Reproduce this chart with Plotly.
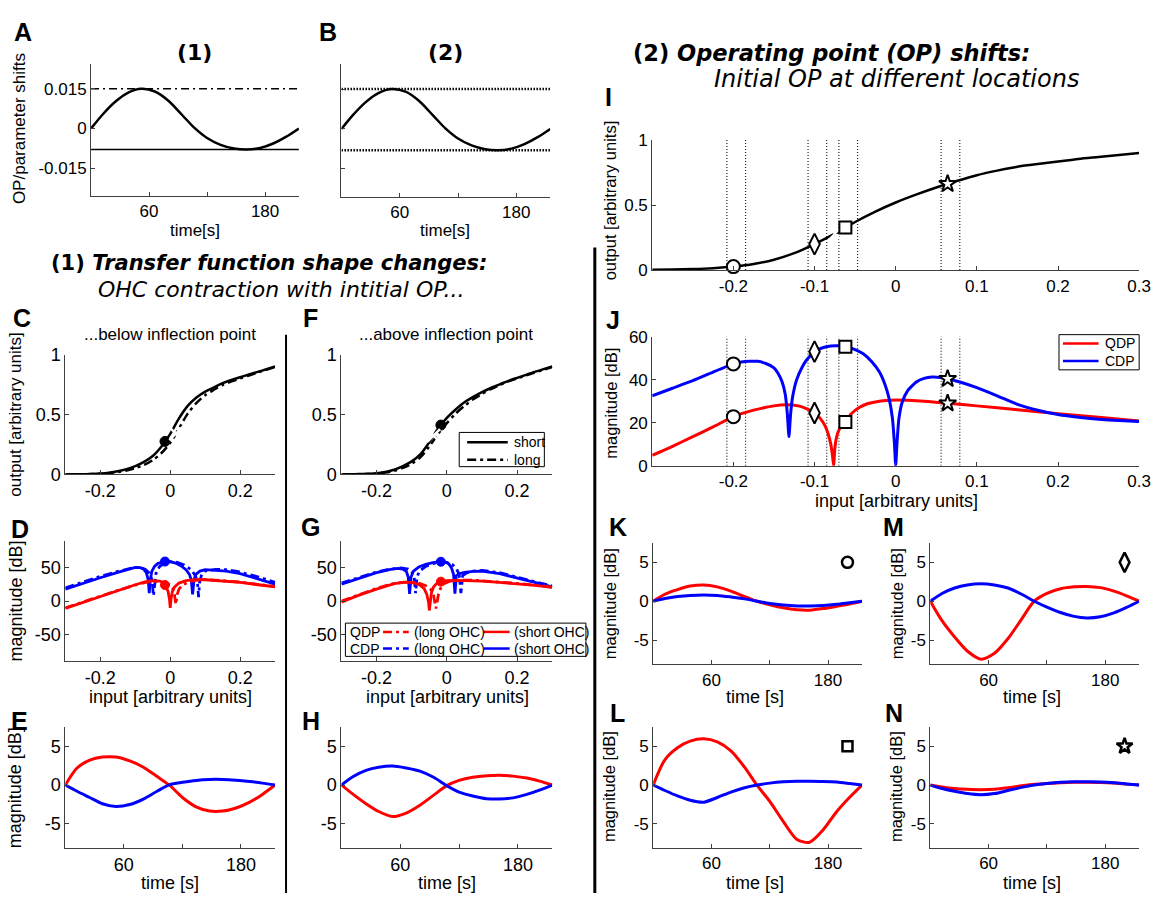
import numpy as np
import plotly.graph_objects as go

# ---------------- time courses (s) ----------------
T_SEC = [0, 12, 25, 38, 52, 66, 80, 94, 107, 120, 134, 148, 161, 175, 189, 202, 215]
OP_SHIFT = [0, 0.0053, 0.0101, 0.0135, 0.0150, 0.0140, 0.0105, 0.0052, 0.0002,
            -0.0036, -0.0062, -0.0076, -0.0080, -0.0074, -0.0056, -0.0031, 0]

E_QDP = [0, 2.2, 3.2, 3.6, 3.6, 3.1, 2.3, 1.1, -0.05, -1.6, -2.8, -3.35, -3.35, -2.95, -2.2, -1.2, 0]
E_CDP = [0, -0.8, -1.6, -2.4, -2.75, -2.5, -1.8, -0.8, 0.05, 0.35, 0.6, 0.72, 0.72, 0.62, 0.45, 0.25, 0]
H_QDP = [0, -1.2, -2.4, -3.4, -4.05, -3.6, -2.6, -1.3, -0.1, 0.6, 1.0, 1.2, 1.27, 1.15, 0.9, 0.5, 0]
H_CDP = [0, 1.1, 1.9, 2.3, 2.45, 2.2, 1.8, 1.0, -0.05, -0.9, -1.4, -1.75, -1.8, -1.65, -1.2, -0.65, 0]
K_QDP = [0, 0.9, 1.5, 1.95, 2.1, 1.85, 1.3, 0.6, 0, -0.45, -0.85, -1.1, -1.15, -0.95, -0.65, -0.35, 0]
K_CDP = [0, 0.35, 0.6, 0.75, 0.8, 0.75, 0.55, 0.3, 0, -0.3, -0.5, -0.6, -0.6, -0.55, -0.4, -0.2, 0]
M_QDP = [0, -2.5, -4.6, -6.4, -7.45, -6.7, -4.8, -2.3, 0, 1.0, 1.6, 1.85, 1.9, 1.75, 1.3, 0.7, 0]
M_CDP = [0, 1.0, 1.7, 2.1, 2.25, 2.1, 1.7, 0.9, 0, -0.75, -1.45, -1.95, -2.15, -2.0, -1.5, -0.8, 0]
L_QDP = [0, 3.25, 4.8, 5.65, 5.95, 5.55, 4.4, 2.3, -0.05, -2.1, -4.7, -7.0, -7.35, -5.75, -3.4, -1.6, 0]
L_CDP = [0, -0.7, -1.4, -1.95, -2.2, -1.6, -0.9, -0.35, 0, 0.25, 0.42, 0.5, 0.5, 0.47, 0.38, 0.2, 0]
N_QDP = [0, -0.25, -0.45, -0.55, -0.6, -0.55, -0.35, -0.1, 0.1, 0.2, 0.3, 0.35, 0.35, 0.33, 0.25, 0.12, 0]
N_CDP = [0, -0.45, -0.8, -1.1, -1.25, -1.1, -0.7, -0.3, 0, 0.2, 0.35, 0.42, 0.42, 0.4, 0.3, 0.15, 0]

# ---------------- transfer functions ----------------
X_TF = [-0.3, -0.275, -0.25, -0.225, -0.2, -0.175, -0.15, -0.125, -0.1, -0.075, -0.05, -0.025,
        0, 0.025, 0.05, 0.075, 0.1, 0.125, 0.15, 0.175, 0.2, 0.225, 0.25, 0.275, 0.3]
C_SHORT = [0.0, 0.001, 0.002, 0.004, 0.008, 0.015, 0.027, 0.045, 0.07, 0.105, 0.155, 0.235,
           0.34, 0.47, 0.575, 0.645, 0.695, 0.73, 0.765, 0.792, 0.815, 0.838, 0.86, 0.882, 0.905]
C_LONG = [0.0, 0.0005, 0.001, 0.003, 0.006, 0.011, 0.02, 0.034, 0.053, 0.08, 0.12, 0.18,
          0.265, 0.385, 0.51, 0.60, 0.665, 0.71, 0.75, 0.78, 0.805, 0.83, 0.855, 0.878, 0.90]
F_SHORT = [0.0, 0.001, 0.003, 0.006, 0.01, 0.022, 0.04, 0.07, 0.11, 0.17, 0.27, 0.385,
           0.475, 0.545, 0.605, 0.65, 0.69, 0.725, 0.755, 0.785, 0.81, 0.835, 0.86, 0.883, 0.905]
F_LONG = [0.0, 0.001, 0.002, 0.004, 0.007, 0.016, 0.03, 0.055, 0.09, 0.145, 0.235, 0.34,
          0.43, 0.51, 0.575, 0.63, 0.675, 0.715, 0.75, 0.78, 0.805, 0.83, 0.855, 0.878, 0.90]
I_OUT = [0.002, 0.004, 0.008, 0.015, 0.027, 0.047, 0.08, 0.13, 0.20, 0.28, 0.37, 0.45,
         0.52, 0.58, 0.635, 0.685, 0.73, 0.765, 0.795, 0.815, 0.835, 0.855, 0.87, 0.885, 0.90]

C_OP, C_INFL = -0.015, 0.016
F_OP, F_INFL = -0.017, -0.038
I_INFL = -0.075
OP_X = [-0.2, -0.1, -0.062, 0.064]
OP_SYMBOL = ["circle", "diamond-tall", "square", "star"]
OP_SIZE = [13, 15, 12, 13]

# ---------------- DP magnitudes (dB) vs input ----------------
D_CDP_S_X = [-0.3, -0.25, -0.2, -0.15, -0.12, -0.1, -0.085, -0.075, -0.068, -0.063, -0.06, -0.057,
             -0.053, -0.045, -0.035, -0.02, -0.01, 0, 0.015, 0.03, 0.045, 0.055, 0.06, 0.064, 0.068,
             0.073, 0.085, 0.1, 0.13, 0.16, 0.2, 0.25, 0.3]
D_CDP_S = [18, 27, 35, 43, 48, 50.5, 50, 47.5, 42, 32, 12, 32, 44, 52, 56.5, 59, 59.5, 59, 57, 53,
           47, 40, 32, 10, 32, 40, 45, 47, 46.5, 45, 41, 33.5, 25.5]
D_CDP_L_X = [-0.3, -0.25, -0.2, -0.15, -0.12, -0.1, -0.08, -0.07, -0.06, -0.052, -0.048, -0.044,
             -0.04, -0.03, -0.015, 0, 0.02, 0.04, 0.06, 0.072, 0.078, 0.081, 0.084, 0.09, 0.1,
             0.13, 0.16, 0.2, 0.25, 0.3]
D_CDP_L = [20, 29, 37, 44.5, 48.5, 50.5, 49.5, 47, 42, 32, 8, 32, 44, 52, 57, 59, 58, 54, 47, 38,
           28, 6, 28, 40, 45, 47.5, 47, 43.5, 36.5, 28]
D_QDP_S_X = [-0.3, -0.25, -0.2, -0.15, -0.1, -0.07, -0.05, -0.03, -0.02, -0.012, -0.006, -0.002,
             0, 0.002, 0.006, 0.012, 0.025, 0.045, 0.07, 0.1, 0.15, 0.2, 0.25, 0.3]
D_QDP_S = [-11, -2, 6, 15.5, 24.5, 29, 30.5, 30, 27.5, 22, 14, 2, -10, 2, 14, 21, 27, 30.5, 32, 32,
           30.5, 28, 24.5, 21.5]
D_QDP_L_X = [-0.3, -0.25, -0.2, -0.15, -0.1, -0.07, -0.05, -0.03, -0.01, 0, 0.008, 0.012, 0.016,
             0.02, 0.025, 0.035, 0.05, 0.07, 0.1, 0.15, 0.2, 0.25, 0.3]
D_QDP_L = [-10, -1, 7, 16, 24, 28, 29.5, 29.5, 27, 24, 18, 10, -5, 10, 18, 24, 28, 31, 32.5, 31,
           28.5, 25, 22]

G_CDP_S_X = [-0.3, -0.25, -0.2, -0.16, -0.14, -0.125, -0.115, -0.11, -0.106, -0.102, -0.095, -0.08,
             -0.06, -0.04, -0.02, -0.005, 0.005, 0.013, 0.019, 0.023, 0.027, 0.035, 0.05, 0.075,
             0.1, 0.15, 0.2, 0.25, 0.3]
G_CDP_S = [25.5, 34, 42.5, 47.5, 49, 48, 44, 36, 11, 36, 45, 51, 55, 57.5, 59, 58.5, 56, 50, 40, 11,
           38, 41, 43, 44.5, 45, 41, 35, 28, 21.5]
G_CDP_L_X = [-0.3, -0.25, -0.2, -0.16, -0.13, -0.11, -0.1, -0.093, -0.089, -0.085, -0.078, -0.06,
             -0.04, -0.02, 0, 0.015, 0.027, 0.035, 0.04, 0.045, 0.055, 0.075, 0.1, 0.15, 0.2,
             0.25, 0.3]
G_CDP_L = [27, 35, 43.5, 48, 49.5, 48, 44, 36, 12, 36, 45, 52, 56, 58.5, 58, 55, 49, 40, 12, 38,
           42, 45, 46, 42.5, 36, 29, 22.5]
G_QDP_S_X = [-0.3, -0.25, -0.2, -0.15, -0.12, -0.1, -0.08, -0.065, -0.057, -0.052, -0.05, -0.048,
             -0.044, -0.038, -0.028, -0.015, 0, 0.03, 0.06, 0.1, 0.15, 0.2, 0.25, 0.3]
G_QDP_S = [-1.5, 9, 18, 26, 28, 28, 25, 19, 10, -2, -14, -2, 12, 21, 27, 29.5, 30.5, 31, 31, 30,
           28, 26, 23.5, 20.5]
G_QDP_L_X = [-0.3, -0.25, -0.2, -0.15, -0.12, -0.1, -0.08, -0.06, -0.045, -0.038, -0.034, -0.031,
             -0.028, -0.024, -0.018, -0.008, 0.01, 0.04, 0.07, 0.1, 0.15, 0.2, 0.25, 0.3]
G_QDP_L = [0, 10, 19, 26.5, 28.5, 28.5, 27, 23, 17, 9, -2, -11, -2, 10, 19, 26, 30, 31.5, 31.5,
           30.5, 28.5, 26.5, 24, 21]

J_CDP_X = [-0.3, -0.275, -0.25, -0.225, -0.2, -0.19, -0.18, -0.17, -0.16, -0.15, -0.145, -0.14,
           -0.136, -0.1335, -0.1315, -0.1295, -0.127, -0.122, -0.115, -0.11, -0.1, -0.09, -0.08,
           -0.07, -0.06, -0.05, -0.04, -0.03, -0.02, -0.013, -0.008, -0.004, -0.0015, 0, 0.0015,
           0.004, 0.008, 0.015, 0.025, 0.035, 0.045, 0.055, 0.065, 0.08, 0.1, 0.125, 0.15, 0.175,
           0.2, 0.225, 0.25, 0.275, 0.3]
J_CDP = [32.5, 36, 39.5, 43.5, 47.3, 48.2, 48.5, 48.5, 47.5, 45.5, 43, 39, 33, 24, 13.5, 24, 32,
         40, 46, 49, 53, 54.8, 55.6, 55.7, 55.2, 54, 52, 48.5, 43.5, 37.5, 31, 22, 10, 0, 10, 22,
         29.5, 35, 38.8, 40.6, 41.2, 41, 40.3, 38.8, 36.3, 32.5, 28.5, 25.8, 23.8, 22.5, 21.6, 21,
         20.5]
J_QDP_X = [-0.3, -0.275, -0.25, -0.225, -0.2, -0.175, -0.15, -0.135, -0.12, -0.11, -0.1, -0.093,
           -0.087, -0.083, -0.08, -0.078, -0.0765, -0.075, -0.073, -0.07, -0.066, -0.062, -0.055,
           -0.045, -0.035, -0.02, 0, 0.02, 0.04, 0.064, 0.1, 0.15, 0.2, 0.25, 0.3]
J_QDP = [4.8, 9, 13.5, 18, 22.8, 25.8, 27.8, 28.3, 27.8, 26.5, 24.5, 22, 18.5, 14.5, 10, 5, 0, 8,
         13, 16.5, 18.8, 20.3, 24, 27, 28.8, 30, 30.5, 30.3, 29.8, 29, 27.8, 26, 24.2, 22.5, 20.8]

# ---------------- figure helpers ----------------
W, H = 1167, 903
FONT = "Liberation Sans, Arial, sans-serif"
HEAD = "DejaVu Sans, Verdana, sans-serif"
AXC = "#404040"
RED, BLUE = "#ff0000", "#0000ff"


def px(x):
    return x / W


def py(y):
    return 1 - y / H


fig = go.Figure()
_count = [0]


def new_axes(box, xr, yr, xt, xtt, yt, ytt, fs=18, ylabels=True):
    _count[0] += 1
    k = "" if _count[0] == 1 else str(_count[0])
    l, r, t, b = box
    common = dict(showline=True, linecolor=AXC, linewidth=1, ticks="inside", ticklen=4,
                  tickcolor=AXC, showgrid=False, zeroline=False, tickmode="array",
                  tickfont=dict(family=FONT, size=fs, color="black"), fixedrange=True)
    fig.update_layout(**{
        "xaxis" + k: dict(domain=[px(l), px(r)], range=xr, anchor="y" + k,
                          tickvals=xt, ticktext=xtt, **common),
        "yaxis" + k: dict(domain=[py(b), py(t)], range=yr, anchor="x" + k,
                          tickvals=yt, ticktext=ytt, showticklabels=ylabels, **common),
    })
    return ("x" + k, "y" + k)


def line(ax, x, y, color="black", width=2.5, dash=None, shape="spline", smoothing=0.8):
    fig.add_trace(go.Scatter(x=x, y=y, xaxis=ax[0], yaxis=ax[1], mode="lines",
                             line=dict(color=color, width=width, dash=dash, shape=shape,
                                       smoothing=smoothing),
                             showlegend=False, hoverinfo="skip"))


def marks(ax, x, y, symbol, size, fill="white", edge="black", lw=2):
    fig.add_trace(go.Scatter(x=x, y=y, xaxis=ax[0], yaxis=ax[1], mode="markers",
                             marker=dict(symbol=symbol, size=size, color=fill,
                                         line=dict(color=edge, width=lw)),
                             cliponaxis=False, showlegend=False, hoverinfo="skip"))


def text(x, y, s, size=18, family=FONT, angle=0, xanchor="center"):
    fig.add_annotation(x=px(x), y=py(y), xref="paper", yref="paper", text=s, showarrow=False,
                       font=dict(family=family, size=size, color="black"), textangle=angle,
                       xanchor=xanchor, yanchor="middle")


def seg(x0, y0, x1, y1, color="black", width=1, dash=None):
    fig.add_shape(type="line", xref="paper", yref="paper", x0=px(x0), y0=py(y0),
                  x1=px(x1), y1=py(y1), line=dict(color=color, width=width, dash=dash))


def box(x0, y0, x1, y1):
    fig.add_shape(type="rect", xref="paper", yref="paper", x0=px(x0), y0=py(y0),
                  x1=px(x1), y1=py(y1), line=dict(color="black", width=1), fillcolor="white")


TR = [0, 215]
TT, TTX = [60, 120, 180], ["60", "", "180"]
XIN, XINT = [-0.2, 0, 0.2], ["-0.2", "0", "0.2"]
XJ, XJT = [-0.2, -0.1, 0, 0.1, 0.2, 0.3], ["-0.2", "-0.1", "0", "0.1", "0.2", "0.3"]
YDB, YDBT = [-5, 0, 5], ["-5", "0", "5"]
DB_R = [-8.1, 7.5]
DASHDOT = "9px,4px,3px,4px"

shift_max, shift_min = max(OP_SHIFT), min(OP_SHIFT)

# ---------------- A / B : operating point shifts over time ----------------
axA = new_axes((92, 302, 55, 190), TR, [-0.0255, 0.0245], TT, TTX,
               [-0.015, 0, 0.015], ["-0.015", "0", "0.015"], fs=17)
line(axA, TR, [shift_max] * 2, width=1.5, dash="8px,4px,2px,4px", shape="linear")
line(axA, TR, [shift_min] * 2, width=1.5, shape="linear")
line(axA, T_SEC, OP_SHIFT, width=2.5)

axB = new_axes((345, 556, 55, 191), TR, [-0.0255, 0.0245], TT, TTX,
               [-0.015, 0, 0.015], ["-0.015", "0", "0.015"], fs=17, ylabels=False)
line(axB, TR, [shift_max] * 2, width=2.5, dash="1.5px,1.5px", shape="linear")
line(axB, TR, [shift_min] * 2, width=2.5, dash="1.5px,1.5px", shape="linear")
line(axB, T_SEC, OP_SHIFT, width=2.5)

# ---------------- C / F : transfer functions ----------------
for box_px, short, long_, op, infl, infl_curve in (
        ((66, 278, 353, 475), C_SHORT, C_LONG, C_OP, C_INFL, C_LONG),
        ((345, 558, 353, 475), F_SHORT, F_LONG, F_OP, F_INFL, F_SHORT)):
    ax = new_axes(box_px, [-0.3, 0.3], [0, 1], XIN, XINT, [0, 0.5, 1], ["0", "0.5", "1"])
    line(ax, X_TF, long_, dash=DASHDOT)
    line(ax, X_TF, short)
    marks(ax, [op], [float(np.interp(op, X_TF, short))], "circle", 10, fill="black", lw=1)
    marks(ax, [infl], [float(np.interp(infl, X_TF, infl_curve))], "x-thin-open", 13, lw=2.5)

# ---------------- D / G : DP magnitude vs input ----------------
for box_px, curves, op in (
        ((66, 278, 543, 666),
         ((D_CDP_L_X, D_CDP_L, BLUE, DASHDOT), (D_CDP_S_X, D_CDP_S, BLUE, None),
          (D_QDP_L_X, D_QDP_L, RED, DASHDOT), (D_QDP_S_X, D_QDP_S, RED, None)), C_OP),
        ((345, 558, 543, 666),
         ((G_CDP_L_X, G_CDP_L, BLUE, DASHDOT), (G_CDP_S_X, G_CDP_S, BLUE, None),
          (G_QDP_L_X, G_QDP_L, RED, DASHDOT), (G_QDP_S_X, G_QDP_S, RED, None)), F_OP)):
    ax = new_axes(box_px, [-0.3, 0.3], [-90, 90], XIN, XINT, [-50, 0, 50], ["-50", "0", "50"])
    for xs, ys, col, dsh in curves:
        line(ax, xs, ys, color=col, dash=dsh, shape="linear", width=2.8)
    for xs, ys, col, dsh in curves[1::2]:
        marks(ax, [op], [float(np.interp(op, xs, ys))], "circle", 9, fill=col, edge=col, lw=1)

# ---------------- E / H : DP magnitude over time ----------------
for box_px, q, c in (((66, 278, 733, 857), E_QDP, E_CDP), ((345, 558, 733, 857), H_QDP, H_CDP)):
    ax = new_axes(box_px, TR, DB_R, TT, TTX, YDB, YDBT)
    line(ax, T_SEC, q, color=RED, width=3)
    line(ax, T_SEC, c, color=BLUE, width=3)

# ---------------- I : transfer function with operating points ----------------
axI = new_axes((659, 1151, 133, 266), [-0.3, 0.3], [0, 1], XJ, XJT, [0, 0.5, 1],
               ["0", "0.5", "1"], fs=17)
op_lines = sorted([o + shift_min for o in OP_X] + [o + shift_max for o in OP_X])
vx, vyI, vyJ = [], [], []
for v in op_lines:
    vx += [v, v, None]
    vyI += [0, 1, None]
    vyJ += [0, 60, None]
fig.add_trace(go.Scatter(x=vx, y=vyI, xaxis=axI[0], yaxis=axI[1], mode="lines",
                         line=dict(color="#222", width=1.2, dash="1px,2px"),
                         showlegend=False, hoverinfo="skip"))
line(axI, X_TF, I_OUT)
marks(axI, [I_INFL], [float(np.interp(I_INFL, X_TF, I_OUT))], "x-thin-open", 12, lw=2)
for o, s, sz in zip(OP_X, OP_SYMBOL, OP_SIZE):
    marks(axI, [o], [float(np.interp(o, X_TF, I_OUT))], s, sz)

# ---------------- J : DP magnitude vs input ----------------
axJ = new_axes((659, 1151, 334, 466), [-0.3, 0.3], [0, 60], XJ, XJT, [0, 20, 40, 60],
               ["0", "20", "40", "60"], fs=17)
fig.add_trace(go.Scatter(x=vx, y=vyJ, xaxis=axJ[0], yaxis=axJ[1], mode="lines",
                         line=dict(color="#222", width=1.2, dash="1px,2px"),
                         showlegend=False, hoverinfo="skip"))
line(axJ, J_QDP_X, J_QDP, color=RED, smoothing=0.5, width=3)
line(axJ, J_CDP_X, J_CDP, color=BLUE, smoothing=0.5, width=3)
for o, s, sz in zip(OP_X, OP_SYMBOL, OP_SIZE):
    marks(axJ, [o, o], [float(np.interp(o, J_CDP_X, J_CDP)), float(np.interp(o, J_QDP_X, J_QDP))],
          s, sz)

# ---------------- K / M / L / N : time courses for each operating point ----------------
for box_px, q, c, s, sz in (
        ((660, 871, 545, 669), K_QDP, K_CDP, OP_SYMBOL[0], 11),
        ((940, 1151, 545, 669), M_QDP, M_CDP, OP_SYMBOL[1], 14),
        ((660, 871, 733, 857), L_QDP, L_CDP, OP_SYMBOL[2], 10),
        ((940, 1151, 733, 857), N_QDP, N_CDP, OP_SYMBOL[3], 12)):
    ax = new_axes(box_px, TR, DB_R, TT, TTX, YDB, YDBT, fs=17)
    line(ax, T_SEC, q, color=RED, width=3)
    line(ax, T_SEC, c, color=BLUE, width=3)
    marks(ax, [200], [5], s, sz, lw=2.5)

# ---------------- legends ----------------
box(464, 432, 550, 467)
seg(472, 442, 513, 442, width=2.5)
seg(472, 460, 513, 460, width=2.5, dash=DASHDOT)
text(517, 442, "short", size=14, xanchor="left")
text(517, 460, "long", size=14, xanchor="left")

box(349, 627, 592, 661)
for yy, lab, col in ((636, "QDP", RED), (653, "CDP", BLUE)):
    text(352, yy, lab, size=14, xanchor="left")
    seg(387, yy, 413, yy, color=col, width=2.5, dash=DASHDOT)
    text(416, yy, "(long OHC)", size=14, xanchor="left")
    seg(489, yy, 515, yy, color=col, width=2.5)
    text(517, yy, "(short OHC)", size=14, xanchor="left")

box(1070, 332, 1151, 368)
seg(1074, 341, 1110, 341, color=RED, width=2.5)
seg(1074, 359, 1110, 359, color=BLUE, width=2.5)
text(1114, 341, "QDP", size=14, xanchor="left")
text(1114, 359, "CDP", size=14, xanchor="left")

# ---------------- separators ----------------
seg(289, 332, 289, 903, width=2)
seg(601, 243, 601, 903, width=3)

# ---------------- headings and panel titles ----------------
text(197, 43, "<b>(1)</b>", size=22, family=HEAD)
text(450, 43, "<b>(2)</b>", size=22, family=HEAD)
text(50, 259, "<b>(1) <i>Transfer function shape changes:</i></b>", size=21, family=HEAD,
     xanchor="left")
text(97, 286, "<i>OHC contraction with intitial OP...</i>", size=22, family=HEAD, xanchor="left")
text(638, 44, "<b>(2) <i>Operating point (OP) shifts:</i></b>", size=22.5, family=HEAD,
     xanchor="left")
text(719, 71, "<i>Initial OP at different locations</i>", size=24, family=HEAD, xanchor="left")
text(172, 332, "...below inflection point", size=17)
text(451, 332, "...above inflection point", size=17)

for lx, ly, letter in ((23, 22, "A"), (331, 22, "B"), (22, 315, "C"), (314, 315, "F"),
                       (20, 531, "D"), (314, 529, "G"), (20, 727, "E"), (314, 727, "H"),
                       (615, 89, "I"), (619, 317, "J"), (624, 529, "K"), (903, 529, "M"),
                       (624, 719, "L"), (903, 719, "N")):
    text(lx, ly, "<b>%s</b>" % letter, size=25)

# axis titles
text(20, 121, "OP/parameter shifts", size=17, angle=-90)
text(197, 225, "time[s]", size=17)
text(450, 225, "time[s]", size=17)
text(16, 414, "output [arbitrary units]", size=17, angle=-90)
text(16, 604, "magnitude [dB]", size=18, angle=-90)
text(172, 703, "input [arbitrary units]", size=18)
text(452, 703, "input [arbitrary units]", size=18)
text(16, 795, "magnitude [dB]", size=18, angle=-90)
text(172, 893, "time [s]", size=18)
text(452, 893, "time [s]", size=18)
text(616, 195, "output [arbitrary units]", size=16.5, angle=-90)
text(617, 402, "magnitude [dB]", size=16.5, angle=-90)
text(906, 502, "input [arbitrary units]", size=18)
for xx, yy in ((616, 607), (906, 607), (616, 794), (906, 794)):
    text(xx, yy, "magnitude [dB]", size=16.5, angle=-90)
for xx, yy in ((763, 703), (1043, 703), (763, 893), (1043, 893)):
    text(xx, yy, "time [s]", size=18)

fig.update_layout(width=W, height=H, margin=dict(l=0, r=0, t=0, b=0), autosize=False,
                  paper_bgcolor="white", plot_bgcolor="white", showlegend=False)

fig.write_html("out.html",
               post_script="document.body.style.margin='0';document.body.style.overflow='hidden';")
